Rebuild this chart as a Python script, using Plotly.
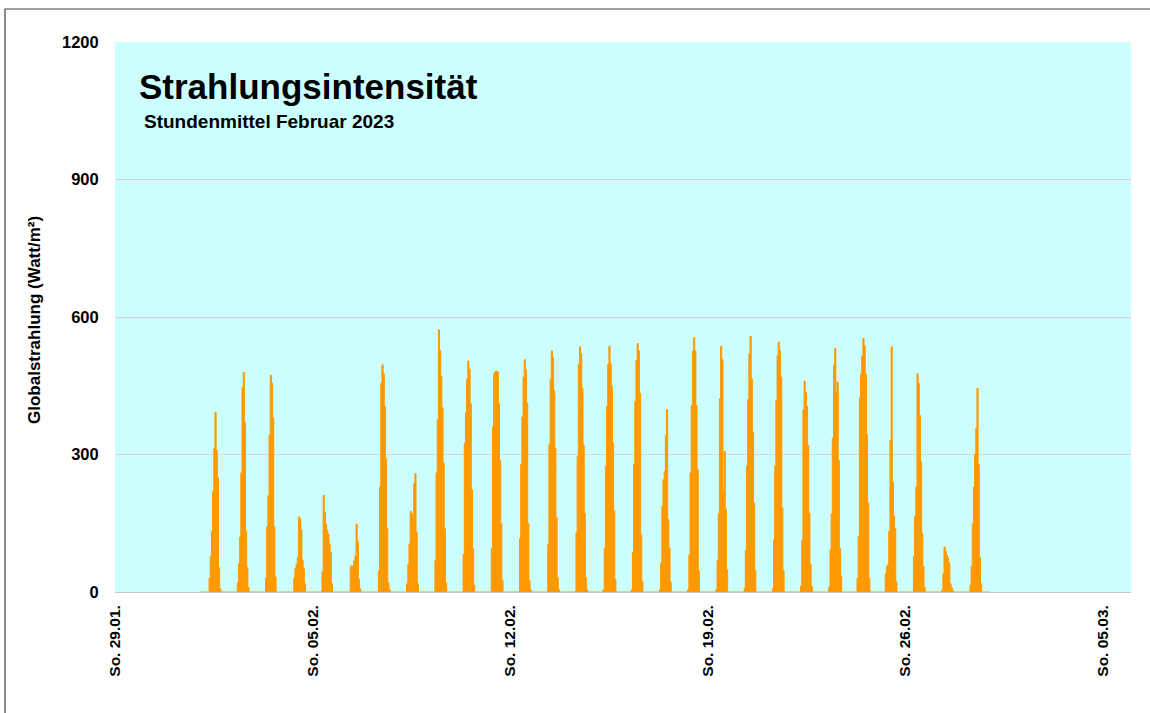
import plotly.graph_objects as go
import pandas as pd

# ---------------- data ----------------
# hourly means of global radiation (W/m²), February 2023
# each list starts at the hour given in day_start_hour; all other hours are 0
day_start_hour = [8, 8, 8, 8, 8, 8, 8,
                  8, 8, 8, 8, 8, 8, 8,
                  7, 7, 7, 7, 7, 7, 7,
                  7, 7, 7, 7, 7, 7, 7]

week1_values = [
    [30, 78, 133, 220, 313, 392, 309, 250, 53, 7],          # 01.02.
    [20, 62, 120, 260, 446, 479, 370, 133, 53, 10],         # 02.02.
    [30, 142, 210, 342, 473, 456, 380, 142, 33],            # 03.02.
    [30, 51, 60, 75, 164, 160, 136, 69, 51, 18],            # 04.02.
    [44, 211, 173, 148, 135, 126, 105, 86, 18],             # 05.02.
    [57, 44, 57, 68, 78, 148, 110, 28, 7],                  # 06.02.
    [47, 229, 455, 496, 476, 405, 291, 138, 20, 5],         # 07.02.
]
week2_values = [
    [18, 60, 105, 176, 171, 151, 236, 258, 131, 18],        # 08.02.
    [68, 260, 376, 572, 527, 470, 402, 281, 138, 20],       # 09.02.
    [82, 324, 391, 464, 504, 486, 411, 223, 95, 15],        # 10.02.
    [95, 361, 476, 481, 482, 480, 411, 287, 149, 25],       # 11.02.
    [116, 279, 382, 469, 507, 485, 412, 149, 25, 5],        # 12.02.
    [104, 322, 464, 526, 511, 439, 314, 162, 30, 5],        # 13.02.
    [129, 296, 497, 535, 520, 444, 321, 172, 31, 5],        # 14.02.
]
week3_values = [
    [5, 96, 275, 405, 497, 536, 498, 449, 326, 177, 27],    # 15.02.
    [5, 87, 279, 416, 505, 542, 526, 434, 126, 23],         # 16.02.
    [5, 63, 187, 245, 263, 342, 398, 158, 96, 22],          # 17.02.
    [5, 81, 260, 407, 526, 555, 526, 407, 267, 47],         # 18.02.
    [5, 69, 171, 422, 536, 507, 220, 307, 180, 49],         # 19.02.
    [7, 91, 275, 420, 520, 558, 465, 349, 194, 47],         # 20.02.
    [7, 114, 275, 418, 516, 545, 526, 469, 184, 47],        # 21.02.
]
week4_values = [
    [13, 113, 398, 460, 436, 405, 320, 172, 60, 13],        # 22.02.
    [11, 92, 171, 336, 495, 531, 434, 458, 287, 95, 35],    # 23.02.
    [30, 121, 423, 475, 515, 553, 537, 475, 344, 194, 30],  # 24.02.
    [40, 56, 60, 132, 331, 535, 240, 165, 138, 22],         # 25.02.
    [78, 165, 229, 476, 455, 385, 284, 127, 56, 10],        # 26.02.
    [4, 40, 98, 89, 80, 73, 63, 18, 10, 4],                 # 27.02.
    [15, 56, 149, 229, 300, 358, 444, 278, 76, 18],         # 28.02.
]

tick_dates = ["2023-01-29", "2023-02-05", "2023-02-12",
              "2023-02-19", "2023-02-26", "2023-03-05"]
tick_labels = ["So. 29.01.", "So. 05.02.", "So. 12.02.",
               "So. 19.02.", "So. 26.02.", "So. 05.03."]
y_ticks = [0, 300, 600, 900, 1200]

# ---------------- build hourly series ----------------
all_days = week1_values + week2_values + week3_values + week4_values
times = pd.date_range("2023-02-01 00:00", "2023-03-01 00:00", freq="h")
values = [0.0] * len(times)
for d, vals in enumerate(all_days):
    for i, v in enumerate(vals):
        values[d * 24 + day_start_hour[d] + i] = v

ORANGE = "#FF9900"
FONT = "Liberation Sans, Arial, sans-serif"

fig = go.Figure()
fig.add_trace(go.Scatter(
    x=times, y=values, mode="lines", line=dict(shape="hv", width=1.0, color=ORANGE),
    fill="tozeroy", fillcolor=ORANGE, hoverinfo="skip", showlegend=False))

L, R, T, B = 115, 19, 42, 121
W, H = 1150, 713
pw, ph = W - L - R, H - T - B

fig.update_layout(
    width=W, height=H,
    margin=dict(l=L, r=R, t=T, b=B),
    paper_bgcolor="white", plot_bgcolor="#CCFFFF",
    font=dict(family=FONT, color="black"),
    showlegend=False,
)
fig.update_xaxes(
    type="date", range=["2023-01-29", "2023-03-06"],
    tickmode="array", tickvals=tick_dates, ticktext=tick_labels,
    tickangle=-90, tickfont=dict(size=15.5, weight="bold", family=FONT),
    showgrid=False, zeroline=False,
    showline=True, linecolor="#C8C8C8", linewidth=1,
    ticks="outside", ticklen=6, tickcolor="rgba(0,0,0,0)",
)
fig.update_yaxes(
    range=[0, 1200], tickmode="array", tickvals=y_ticks,
    tickfont=dict(size=16.5, weight="bold", family=FONT),
    showgrid=True, gridcolor="#DCD2D2", gridwidth=1, zeroline=False,
    showline=False, ticks="outside", ticklen=12, tickcolor="rgba(0,0,0,0)",
)

def px_x(x):
    return (x - L) / pw

def px_y(y):
    return (H - B - y) / ph

fig.add_annotation(text="Globalstrahlung (Watt/m²)", textangle=-90,
                   xref="paper", yref="paper", x=px_x(35), y=px_y(320),
                   xanchor="center", yanchor="middle", showarrow=False,
                   font=dict(size=17, weight="bold", family=FONT))
fig.add_annotation(text="Strahlungsintensität",
                   xref="paper", yref="paper", x=px_x(137), y=px_y(87),
                   xanchor="left", yanchor="middle", showarrow=False,
                   font=dict(size=35, weight="bold", family=FONT))
fig.add_annotation(text="Stundenmittel Februar 2023",
                   xref="paper", yref="paper", x=px_x(142), y=px_y(121),
                   xanchor="left", yanchor="middle", showarrow=False,
                   font=dict(size=19, weight="bold", family=FONT))

# outer chart frame (extends past the right and bottom picture edges)
fig.add_shape(type="rect", xref="paper", yref="paper",
              x0=px_x(5), x1=px_x(1155), y0=px_y(720), y1=px_y(9),
              line=dict(color="#404040", width=1.2), fillcolor="rgba(0,0,0,0)",
              layer="below")

fig.write_html("out.html", config={"displayModeBar": False},
               post_script="document.body.style.margin='0';document.body.style.overflow='hidden';")
